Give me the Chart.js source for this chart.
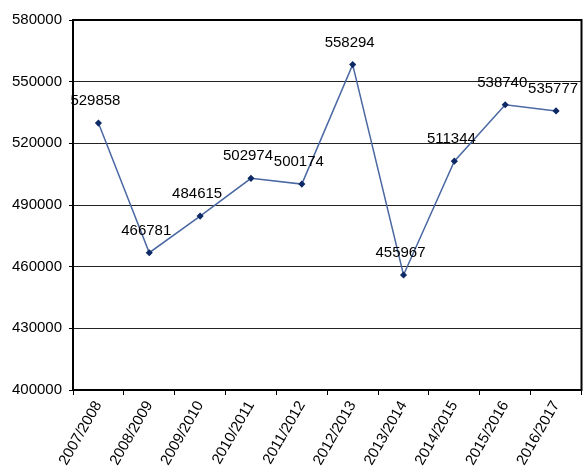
<!DOCTYPE html>
<html>
<head>
<meta charset="utf-8">
<script src="https://cdn.jsdelivr.net/npm/chart.js@4/dist/chart.umd.min.js"></script>
<style>
  html, body { margin: 0; padding: 0; background: #fff; }
  #wrap { width: 587px; height: 466px; }
</style>
</head>
<body>
<div id="wrap"><canvas id="chart"></canvas></div>
<script>
var seasons = ['2007/2008', '2008/2009', '2009/2010', '2010/2011', '2011/2012',
               '2012/2013', '2013/2014', '2014/2015', '2015/2016', '2016/2017'];
var totals = [529858, 466781, 484615, 502974, 500174, 558294, 455967, 511344, 538740, 535777];
var yTicks = [400000, 430000, 460000, 490000, 520000, 550000, 580000];

var font = 'Liberation Sans, Arial, sans-serif';

// value labels above each point, like the spreadsheet's data labels
var pointLabels = {
    id: 'pointLabels',
    afterDatasetsDraw: function(chart) {
        var ctx = chart.ctx;
        var meta = chart.getDatasetMeta(0);
        ctx.save();
        ctx.font = '15px ' + font;
        ctx.fillStyle = '#000';
        ctx.textAlign = 'center';
        ctx.textBaseline = 'middle';
        meta.data.forEach(function(pt, i) {
            ctx.fillText(String(totals[i]), pt.x - 3, pt.y - 22);
        });
        ctx.restore();
    }
};

// black frame round the plot area
var plotFrame = {
    id: 'plotFrame',
    afterDraw: function(chart) {
        var a = chart.chartArea;
        var ctx = chart.ctx;
        ctx.save();
        ctx.strokeStyle = '#000';
        ctx.lineWidth = 2;
        ctx.strokeRect(a.left, a.top, a.right - a.left, a.bottom - a.top);
        ctx.restore();
    }
};

new Chart(document.getElementById('chart'), {
    type: 'line',
    data: {
        labels: seasons,
        datasets: [{
            data: totals,
            borderColor: '#4a68a2',
            borderWidth: 1.5,
            backgroundColor: '#0d2a66',
            pointBackgroundColor: '#0d2a66',
            pointBorderColor: '#0d2a66',
            pointStyle: 'rectRot',
            pointRadius: 2.5,
            tension: 0,
            fill: false
        }]
    },
    options: {
        responsive: true,
        maintainAspectRatio: false,
        animation: false,
        layout: { padding: { top: 20, right: 1, left: 0, bottom: 0 } },
        plugins: {
            legend: { display: false },
            tooltip: { enabled: false }
        },
        scales: {
            x: {
                offset: true,
                grid: {
                    offset: true,
                    drawOnChartArea: false,
                    drawTicks: true,
                    tickLength: 5,
                    color: '#000'
                },
                border: { color: '#000', width: 2 },
                ticks: {
                    color: '#000',
                    font: { family: font, size: 15 },
                    minRotation: 60,
                    maxRotation: 60,
                    padding: 3,
                    autoSkip: false
                },
                afterFit: function(s) {
                    s.height = 76;
                    s.paddingRight = 0;
                    s.paddingLeft = 0;
                }
            },
            y: {
                min: 400000,
                max: 580000,
                afterBuildTicks: function(s) {
                    s.ticks = yTicks.map(function(v) { return { value: v }; });
                },
                grid: {
                    color: '#222',
                    lineWidth: 1,
                    tickLength: 4,
                    tickColor: '#000'
                },
                border: { color: '#000', width: 2 },
                ticks: {
                    color: '#000',
                    font: { family: font, size: 15 },
                    padding: 7,
                    callback: function(v) { return String(v); }
                },
                afterFit: function(s) { s.width = 73; }
            }
        }
    },
    plugins: [pointLabels, plotFrame]
});
</script>
</body>
</html>
